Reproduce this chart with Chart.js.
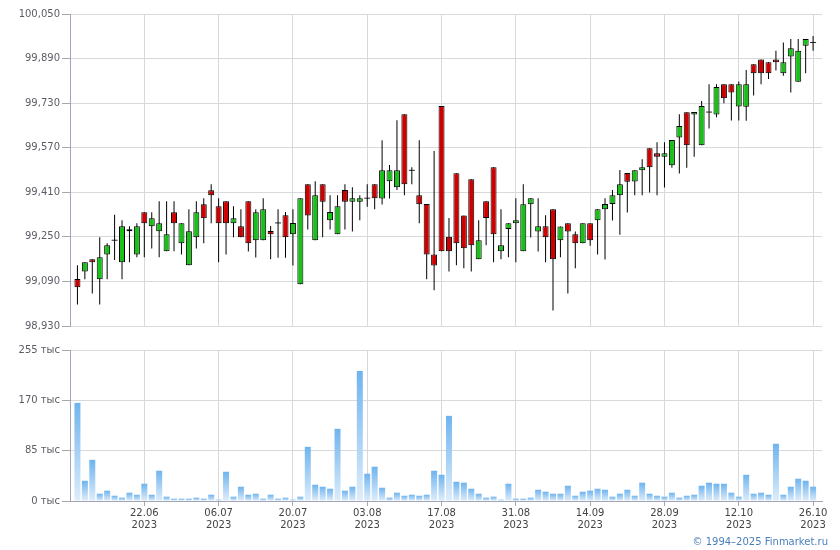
<!DOCTYPE html>
<html><head><meta charset="utf-8">
<script src="https://cdn.jsdelivr.net/npm/chart.js@4.4.1/dist/chart.umd.min.js"></script>
<style>
html,body{margin:0;padding:0;background:#fff}
body{width:840px;height:550px;overflow:hidden;position:relative;font-family:"DejaVu Sans",sans-serif}
#c1{position:absolute;left:0;top:0}
#c2{position:absolute;left:0;top:340px}
#copy{position:absolute;right:12px;top:536px;font-size:10px;color:#4a7ebb;font-family:"DejaVu Sans",sans-serif}
</style></head><body>
<canvas id="c1" width="840" height="340"></canvas>
<canvas id="c2" width="840" height="210"></canvas>
<div id="copy">© 1994–2025 Finmarket.ru</div>
<script>
// ---- DATA ----
const dates = [
'09.06','12.06','13.06','14.06','15.06','16.06','19.06','20.06','21.06','22.06','23.06','26.06','27.06','28.06','29.06','30.06',
'03.07','04.07','05.07','06.07','07.07','10.07','11.07','12.07','13.07','14.07','17.07','18.07','19.07','20.07','21.07','24.07','25.07','26.07','27.07','28.07','31.07',
'01.08','02.08','03.08','04.08','07.08','08.08','09.08','10.08','11.08','14.08','15.08','16.08','17.08','18.08','21.08','22.08','23.08','24.08','25.08','28.08','29.08','30.08','31.08',
'01.09','04.09','05.09','06.09','07.09','08.09','11.09','12.09','13.09','14.09','15.09','18.09','19.09','20.09','21.09','22.09','25.09','26.09','27.09','28.09','29.09',
'02.10','03.10','04.10','05.10','06.10','09.10','10.10','11.10','12.10','13.10','16.10','17.10','18.10','19.10','20.10','23.10','24.10','25.10','26.10'
];
const openP = [99099,99126,99170,99098,99187,99238,99159,99277,99187,99338,99288,99270,99198,99338,99227,99148,99249,99367,99417,99360,
99378,99299,99288,99378,99238,99238,99271,99300,99328,99259,99080,99439,99238,99439,99310,99259,99418,99376,99376,99389,
99439,99388,99450,99428,99690,99489,99399,99368,99187,99720,99250,99478,99327,99457,99170,99378,99500,99198,99278,99299,
99198,99367,99269,99288,99349,99238,99299,99259,99227,99299,99310,99349,99368,99399,99479,99449,99489,99568,99550,99538,
99507,99607,99697,99689,99579,99698,99689,99798,99798,99718,99717,99870,99887,99877,99887,99837,99897,99807,99936,99948];
const highP = [99148,99159,99170,99249,99227,99329,99310,99288,99299,99338,99338,99378,99378,99378,99299,99349,99378,99389,99439,99389,
99378,99360,99349,99378,99349,99389,99289,99349,99339,99349,99389,99439,99450,99439,99399,99399,99439,99428,99399,99439,
99439,99597,99508,99669,99690,99500,99597,99368,99558,99720,99318,99478,99327,99457,99310,99378,99500,99349,99299,99389,
99439,99389,99389,99328,99349,99287,99299,99269,99299,99299,99349,99389,99418,99490,99479,99489,99529,99568,99590,99590,
99598,99690,99697,99698,99738,99798,99798,99798,99798,99808,99849,99870,99887,99877,99918,99948,99960,99960,99960,99971];
const lowP = [99007,99098,99047,99007,99098,99167,99098,99159,99177,99177,99208,99177,99198,99198,99187,99148,99208,99227,99299,99159,
99187,99249,99249,99197,99176,99238,99170,99175,99175,99147,99080,99276,99238,99249,99276,99259,99276,99269,99310,99358,
99349,99366,99388,99418,99399,99439,99299,99098,99058,99198,99126,99148,99137,99126,99170,99220,99159,99170,99177,99159,
99198,99248,99197,99159,98986,99177,99047,99137,99227,99218,99187,99169,99309,99258,99337,99399,99399,99409,99399,99427,
99498,99477,99498,99538,99579,99639,99679,99730,99668,99668,99667,99757,99798,99817,99847,99828,99768,99807,99837,99918];
const closeP = [99069,99159,99159,99177,99220,99238,99288,99270,99288,99299,99317,99299,99259,99299,99299,99270,99338,99317,99399,99299,
99299,99317,99249,99227,99338,99349,99259,99300,99249,99300,99389,99327,99399,99376,99339,99360,99376,99389,99389,99389,
99389,99489,99489,99489,99439,99489,99367,99187,99147,99198,99198,99227,99209,99220,99238,99318,99259,99220,99299,99310,
99367,99389,99288,99249,99170,99287,99269,99227,99299,99238,99349,99368,99399,99439,99448,99489,99500,99500,99538,99550,
99598,99648,99579,99698,99720,99698,99788,99748,99768,99798,99798,99837,99837,99837,99877,99877,99927,99918,99960,99948];
// volume, thousands
const volume = [165.7,34.2,69.6,12.3,17.4,8.9,5.6,14,10.6,29.2,
10.6,51.1,7.3,3.9,3.9,3.9,5.6,3.9,10.6,2.2,
49.4,7.3,24.1,10.6,12.3,3.9,10.6,3.9,5.6,2.2,
7.3,91.5,27.5,24.1,20.7,121.9,17.4,24.1,219.7,46.0,
57.9,22.4,5.6,14,8.9,10.6,8.9,10.6,51.1,44.3,
143.8,32.5,30.9,20.7,12.3,5.6,7.3,2.2,29.2,3.9,
3.9,5.6,19,15.7,12.3,12.3,25.8,8.9,15.7,17.4,
20.7,19,7.3,12.3,19,8.9,30.9,12.3,8.9,7.3,
14,5.6,8.9,10.6,25.8,30.9,29.2,29.2,14,7.3,
44.3,12.3,14,10.6,96.6,10.6,24.1,37.6,34.2,24.1];
const tickDates = ['22.06','06.07','20.07','03.08','17.08','31.08','14.09','28.09','12.10','26.10'];
const tickYear = '2023';
const priceTicks = [98930,99090,99250,99410,99570,99730,99890,100050];
const volumeTicks = [0,85,170,255];
const volumeUnit = 'тыс';

// ---- CHART ----
const tickIdx = tickDates.map(d => dates.indexOf(d));
const isDoji = i => Math.abs(openP[i] - closeP[i]) < 1;
const bodyData = dates.map((d, i) => ({x: i, y: isDoji(i) ? [openP[i] - 1.5, openP[i] + 1.5] : [Math.min(openP[i], closeP[i]), Math.max(openP[i], closeP[i])]}));
const wickData = dates.map((d, i) => ({x: i, y: [lowP[i], highP[i]]}));
const volData = dates.map((d, i) => ({x: i, y: volume[i]}));

const FONT = {family: '"DejaVu Sans", sans-serif', size: 10};
const GRID = '#d6dadd';
const AXIS = '#a3a5b7';
const TICKC = '#a8a8a8';
const xMin = -1, xMax = 100.2;

const xTickSetter = s => { s.ticks = tickIdx.map(v => ({value: v})); };

new Chart(document.getElementById('c1'), {
  type: 'bar',
  data: {datasets: [
    {data: bodyData, grouped: false, order: 0, barThickness: 6, borderSkipped: false,
     backgroundColor: bodyData.map((p, i) => isDoji(i) ? '#000' : (closeP[i] > openP[i] ? '#18c018' : '#d10000')),
     borderColor: '#000', borderWidth: bodyData.map((p, i) => isDoji(i) ? 0 : 1), inflateAmount: 0},
    {data: wickData, grouped: false, order: 1, barThickness: 1, backgroundColor: '#000', borderWidth: 0, inflateAmount: 0}
  ]},
  options: {
    responsive: false, animation: false,
    plugins: {legend: {display: false}, tooltip: {enabled: false}},
    layout: {padding: {top: 14, right: 18, bottom: 14, left: 0}},
    scales: {
      x: {type: 'linear', min: xMin, max: xMax, offset: false, afterBuildTicks: xTickSetter,
          afterFit: s => { s.height = 0; },
          ticks: {display: false}, grid: {color: GRID, drawTicks: false, offset: false}, border: {display: false}},
      y: {type: 'linear', min: priceTicks[0], max: priceTicks[priceTicks.length - 1],
          afterBuildTicks: s => { s.ticks = priceTicks.map(v => ({value: v})); },
          afterFit: s => { s.width = 70; },
          ticks: {color: '#5c5c66', font: FONT, padding: 2, callback: v => v.toLocaleString('en-US')},
          grid: {color: GRID, tickColor: TICKC, tickLength: 8},
          border: {color: AXIS, width: 1}}
    }
  }
});

new Chart(document.getElementById('c2'), {
  type: 'bar',
  data: {datasets: [
    {data: volData, grouped: false, barThickness: 6, borderWidth: 0, inflateAmount: 0,
     backgroundColor: ctx => {
       const ch = ctx.chart, area = ch.chartArea;
       if (!area || ctx.type !== 'data' || !ch.scales.y) return '#9ccbf2';
       const top = ch.scales.y.getPixelForValue(ctx.raw.y);
       const g = ch.ctx.createLinearGradient(0, top, 0, area.bottom);
       g.addColorStop(0, '#6fb4ee');
       g.addColorStop(1, '#deedfb');
       return g;
     }}
  ]},
  options: {
    responsive: false, animation: false,
    plugins: {legend: {display: false}, tooltip: {enabled: false}},
    layout: {padding: {top: 10, right: 18, bottom: 9, left: 0}},
    scales: {
      x: {type: 'linear', min: xMin, max: xMax, offset: false, afterBuildTicks: xTickSetter,
          afterFit: s => { s.height = 40; },
          ticks: {color: '#444', font: FONT, padding: 1, maxRotation: 0, autoSkip: false,
                  callback: v => { const k = tickIdx.indexOf(v); return k < 0 ? '' : [tickDates[k], tickYear]; }},
          grid: {color: GRID, tickColor: TICKC, tickLength: 5, offset: false},
          border: {color: AXIS, width: 1}},
      y: {type: 'linear', min: volumeTicks[0], max: volumeTicks[volumeTicks.length - 1],
          afterBuildTicks: s => { s.ticks = volumeTicks.map(v => ({value: v})); },
          afterFit: s => { s.width = 70; },
          ticks: {color: '#5c5c66', font: FONT, padding: 2, callback: v => v + ' ' + volumeUnit},
          grid: {color: GRID, tickColor: TICKC, tickLength: 8},
          border: {color: AXIS, width: 1}}
    }
  }
});
</script>
</body></html>
